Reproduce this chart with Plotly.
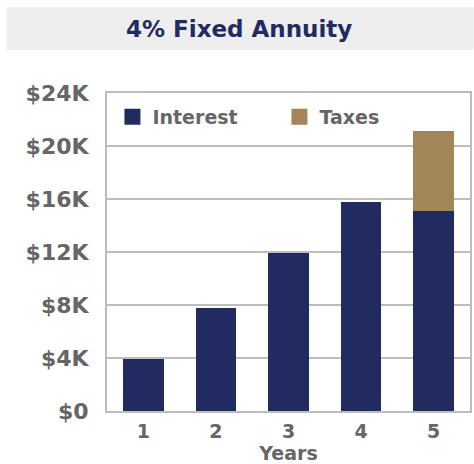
import plotly.graph_objects as go

years = ["1", "2", "3", "4", "5"]
interest = [3950, 7800, 11900, 15800, 15100]
taxes = [0, 0, 0, 0, 6000]
y_ticks = [0, 4000, 8000, 12000, 16000, 20000, 24000]
y_tick_labels = ["$0", "$4K", "$8K", "$12K", "$16K", "$20K", "$24K"]

NAVY = "#222B5F"
TAN = "#A28558"
GRAY = "#666666"
GRID = "#BDBDBD"
FONT = "DejaVu Sans"

fig = go.Figure()
fig.add_trace(go.Bar(x=years, y=interest, name="Interest", marker_color=NAVY,
                     marker_line_width=0, showlegend=False, width=0.56))
fig.add_trace(go.Bar(x=years, y=taxes, name="Taxes", marker_color=TAN,
                     marker_line_width=0, showlegend=False, width=0.56))
# legend proxies
fig.add_trace(go.Scatter(x=[None], y=[None], mode="markers", name="Interest",
                         marker=dict(symbol="square", size=16, color=NAVY)))
fig.add_trace(go.Scatter(x=[None], y=[None], mode="markers", name="Taxes",
                         marker=dict(symbol="square", size=16, color=TAN)))

fig.update_layout(
    width=474, height=464,
    margin=dict(l=107, r=2, t=93, b=53),
    barmode="stack",
    paper_bgcolor="white", plot_bgcolor="white",
    font=dict(family=FONT, color=GRAY),
    legend=dict(orientation="h", x=0.015, y=0.925, xanchor="left", yanchor="middle",
                bgcolor="rgba(0,0,0,0)", entrywidth=122, entrywidthmode="pixels",
                traceorder="normal",
                font=dict(size=19, color=GRAY, family=FONT, weight=700),
                itemsizing="trace"),
    shapes=[dict(type="rect", xref="paper", yref="paper",
                 x0=-0.277, x1=1.01, y0=1.135, y1=1.270,
                 fillcolor="#EEEEEE", line_width=0, layer="below")],
    annotations=[dict(text="4% Fixed Annuity", xref="paper", yref="paper",
                      x=0.363, y=1.2025, xanchor="center", yanchor="middle",
                      showarrow=False,
                      font=dict(size=23, color=NAVY, family=FONT, weight=700))],
)
fig.update_xaxes(
    showline=True, linecolor=GRID, linewidth=2, mirror=True,
    tickfont=dict(size=19, color=GRAY, family=FONT, weight=700),
    title=dict(text="Years", font=dict(size=19, color=GRAY, family=FONT, weight=700),
               standoff=2),
    ticks="outside", tickcolor="rgba(0,0,0,0)", ticklen=2,
)
fig.update_yaxes(
    range=[0, 24000], tickvals=y_ticks, ticktext=y_tick_labels,
    showgrid=True, gridcolor=GRID, gridwidth=2,
    showline=True, linecolor=GRID, linewidth=2, mirror=True,
    ticks="outside", tickcolor="rgba(0,0,0,0)", ticklen=12,
    tickfont=dict(size=22, color=GRAY, family=FONT, weight=700),
    zeroline=False,
)

fig.write_html("out.html", post_script="document.body.style.margin='0px';",
               config={"displayModeBar": False})
